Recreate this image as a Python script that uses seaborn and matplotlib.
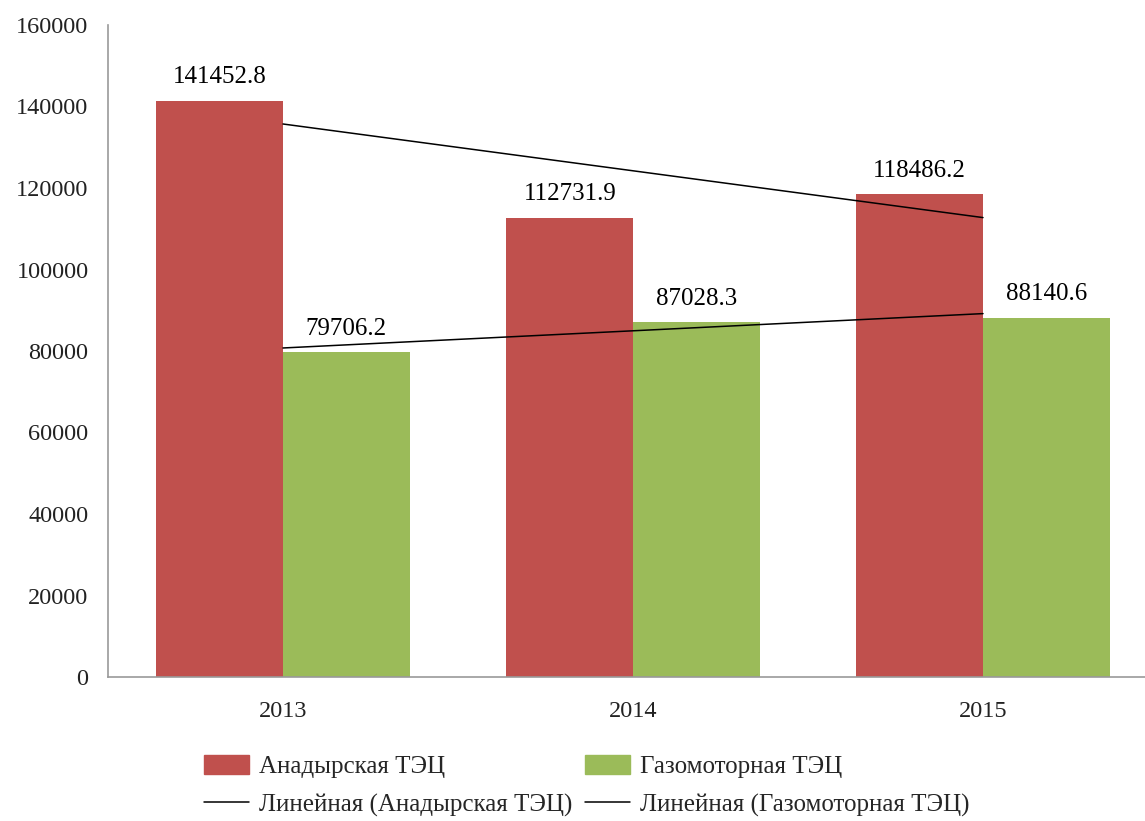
import numpy as np
import pandas as pd
import matplotlib.pyplot as plt
import seaborn as sns
from matplotlib.patches import Patch
from matplotlib.lines import Line2D

sns.set_theme(style="white")
plt.rcParams['font.family'] = ['Liberation Serif', 'DejaVu Serif']

# Данные
years = ['2013', '2014', '2015']
stations = ['Анадырская ТЭЦ', 'Газомоторная ТЭЦ']
anadyr = [141452.8, 112731.9, 118486.2]
gazomotor = [79706.2, 87028.3, 88140.6]
colors = ['#C0504D', '#9BBB59']

df = pd.DataFrame({
    'year': years * 2,
    'station': [stations[0]] * 3 + [stations[1]] * 3,
    'value': anadyr + gazomotor,
})

fig = plt.figure(figsize=(11.45, 8.21), dpi=100)
ax = fig.add_axes([108 / 1145, 1 - 677 / 821, 1050 / 1145, 652 / 821])

sns.barplot(data=df, x='year', y='value', hue='station', hue_order=stations,
            palette=colors, width=0.723, saturation=1, errorbar=None,
            legend=False, ax=ax, zorder=2, linewidth=0)

for cont in ax.containers:
    ax.bar_label(cont, fmt='%.1f', padding=9, fontsize=18, color='black')

# Линейные тренды
x = np.arange(len(years))
for vals in (anadyr, gazomotor):
    k, b = np.polyfit(x, vals, 1)
    ax.plot([x[0], x[-1]], [k * x[0] + b, k * x[-1] + b],
            color='black', lw=1.1, zorder=3)

ax.set_xlim(-0.5, 2.5)
ax.set_ylim(0, 160000)
ax.set_yticks(range(0, 160001, 20000))
ax.set_xlabel('')
ax.set_ylabel('')
ax.tick_params(axis='both', length=0, labelsize=17.5, labelcolor='#222222')
ax.tick_params(axis='y', pad=14)
ax.tick_params(axis='x', pad=17)
for s in ['top', 'right']:
    ax.spines[s].set_visible(False)
for s in ['left', 'bottom']:
    ax.spines[s].set_color('#999999')
    ax.spines[s].set_linewidth(1.2)

handles = [Patch(color=colors[0]), Line2D([], [], color='black', lw=1.1),
           Patch(color=colors[1]), Line2D([], [], color='black', lw=1.1)]
labels = [stations[0], 'Линейная (' + stations[0] + ')',
          stations[1], 'Линейная (' + stations[1] + ')']
fig.legend(handles, labels, ncol=2, loc='center', frameon=False,
           bbox_to_anchor=(587 / 1145, 1 - 786 / 821), fontsize=18,
           handlelength=1.8, handleheight=0.8, handletextpad=0.4,
           columnspacing=0.5, labelspacing=0.6)

fig.savefig('out.png', dpi=100)
